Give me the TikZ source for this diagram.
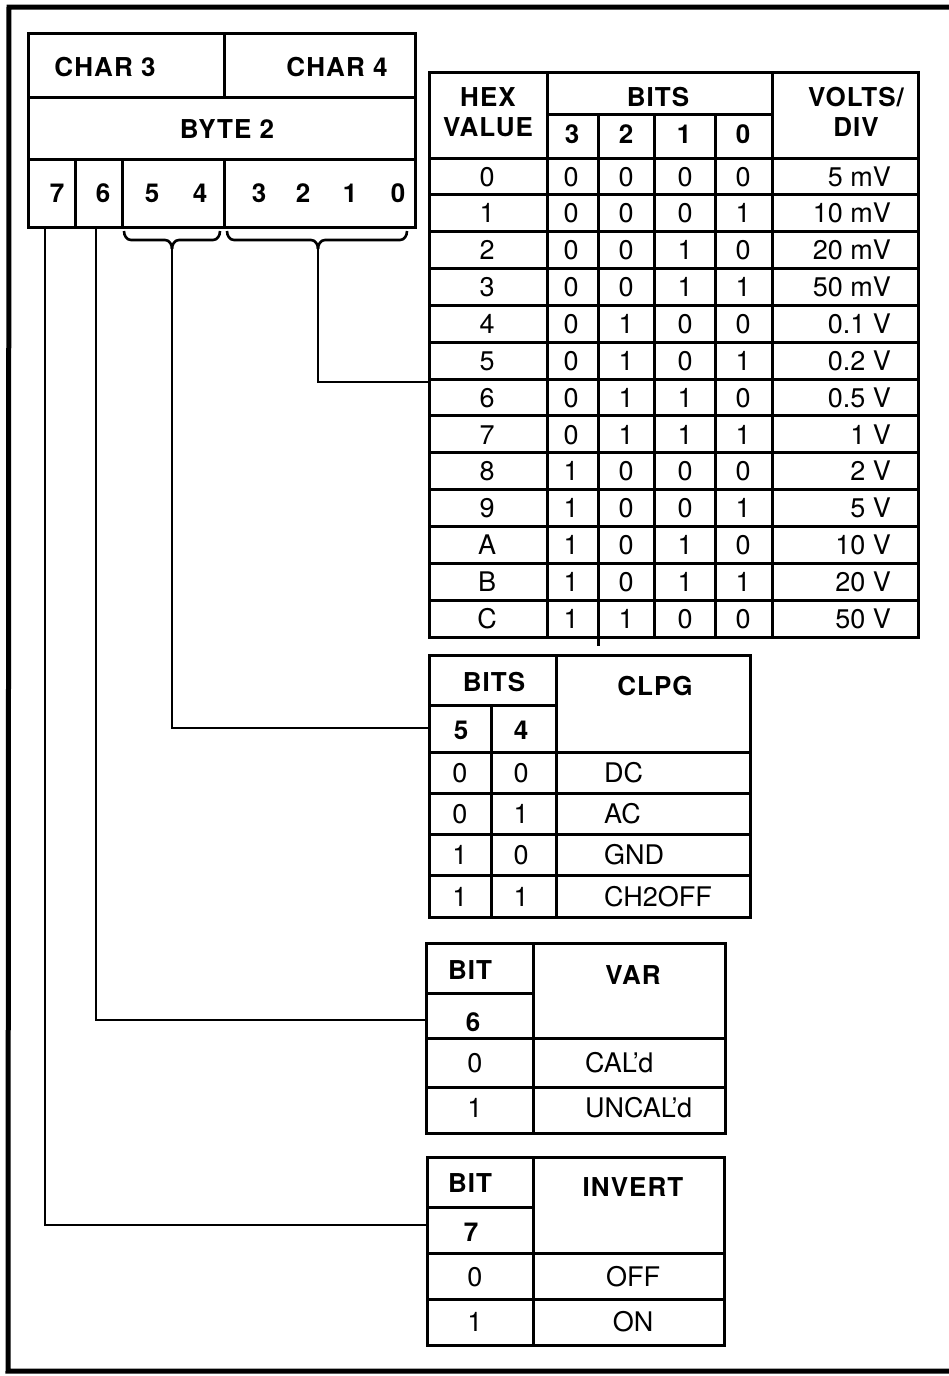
\documentclass[tikz,border=0pt]{standalone}
\usepackage{fontspec}
\setmainfont{TeX Gyre Heros}
\newfontfamily\hbf[LetterSpace=4.0]{TeX Gyre Heros}
\begin{document}
\begin{tikzpicture}[x=1pt,y=-1pt,
  tl/.style={line width=3pt},
  conn/.style={line width=2.6pt},
  frame/.style={line width=5pt},
  lab/.style={inner sep=0pt, font=\fontsize{27}{31}\selectfont, text height=19.4pt, text depth=0pt},
  hd/.style={lab, font=\fontsize{26}{30}\selectfont\hbf\bfseries, text height=18.7pt}]
\useasboundingbox (0,0) rectangle (949,1376);
% outer frame
\draw[frame] (960,7) -- (9,7) -- (8,1371) -- (960,1371);

% ---------- byte box ----------
\draw[tl] (28,33) rectangle (415,227);
\draw[tl] (28,97) -- (415,97);
\draw[tl] (28,159) -- (415,159);
\draw[tl] (224,33) -- (224,97);
\draw[tl] (75,159) -- (75,227);
\draw[tl] (122,159) -- (122,227);
\draw[tl] (224,159) -- (224,227);
\node[hd] (char3) at (105,67) {CHAR 3};
\node[hd] (char4) at (337,67) {CHAR 4};
\node[hd] (byte2) at (227,129) {BYTE 2};
\node[hd] (bb7) at (57,193) {7};
\node[hd] (bb6) at (103,193) {6};
\node[hd] (bb5) at (152,193) {5};
\node[hd] (bb4) at (200,193) {4};
\node[hd] (bb3) at (259,193) {3};
\node[hd] (bb2) at (303,193) {2};
\node[hd] (bb1) at (350,193) {1};
\node[hd] (bb0) at (398,193) {0};

% connector end points
\coordinate (b7) at (45,227);
\coordinate (b6) at (96,227);
\coordinate (t54) at (172,249);
\coordinate (t30) at (318,249);
\coordinate (inv) at (427,1225);
\coordinate (var) at (426,1020);
\coordinate (clpg) at (429,728);
\coordinate (hex) at (429,382);

% braces
\draw[conn] (124,231) to[out=-90,in=180] (131,240) -- (165,240) to[out=0,in=90] (t54);
\draw[conn] (220,231) to[out=-90,in=0] (213,240) -- (179,240) to[out=180,in=90] (t54);
\draw[conn] (227,231) to[out=-90,in=180] (234,240) -- (311,240) to[out=0,in=90] (t30);
\draw[conn] (407,231) to[out=-90,in=0] (400,240) -- (325,240) to[out=180,in=90] (t30);

% connectors
\draw[conn] (b7) |- (inv);
\draw[conn] (b6) |- (var);
\draw[conn] (t54) |- (clpg);
\draw[conn] (t30) |- (hex);

% ---------- HEX table ----------
\def\rh{36.85}
\draw[tl] (429,72) rectangle (918,637);
\draw[tl] (547,72) -- (547,637);
\draw[tl] (772,72) -- (772,637);
\draw[tl] (547,114) -- (772,114);
\draw[tl] (598,114) -- (598,646);
\draw[tl] (654,114) -- (654,637);
\draw[tl] (715,114) -- (715,637);
\draw[tl] (429,158) -- (918,158);
\foreach \i in {1,...,12} \draw[tl] (429,158+\i*\rh) -- (918,158+\i*\rh);
\node[hd] (hexh) at (488,97) {HEX};
\node[hd] (valh) at (488,127) {VALUE};
\node[hd] (bitsh) at (658,97) {BITS};
\node[hd] (h3) at (572,134) {3};
\node[hd] (h2) at (626,134) {2};
\node[hd] (h1) at (684,134) {1};
\node[hd] (h0) at (743,134) {0};
\node[hd] (volth) at (856,97) {VOLTS/};
\node[hd] (divh) at (856,127) {DIV};
\foreach \hx/\ba/\bb/\bc/\bd/\vv [count=\i from 0] in
  {0/0/0/0/0/5 mV, 1/0/0/0/1/10 mV, 2/0/0/1/0/20 mV, 3/0/0/1/1/50 mV,
   4/0/1/0/0/0.1 V, 5/0/1/0/1/0.2 V, 6/0/1/1/0/0.5 V, 7/0/1/1/1/1 V,
   8/1/0/0/0/2 V, 9/1/0/0/1/5 V, A/1/0/1/0/10 V, B/1/0/1/1/20 V, C/1/1/0/0/50 V}{
  \pgfmathsetmacro{\yy}{158+(\i+0.5)*\rh}
  \node[lab] (hx\i) at (487,\yy) {\hx};
  \node[lab] (ba\i) at (571,\yy) {\ba};
  \node[lab] (bb\i) at (626,\yy) {\bb};
  \node[lab] (bc\i) at (685,\yy) {\bc};
  \node[lab] (bd\i) at (743,\yy) {\bd};
  \node[lab,anchor=east] (vv\i) at (891,\yy) {\vv};
}

% ---------- CLPG table ----------
\draw[tl] (429,655) rectangle (750,917);
\draw[tl] (556,655) -- (556,917);
\draw[tl] (429,705) -- (556,705);
\draw[tl] (491,705) -- (491,917);
\draw[tl] (429,752) -- (750,752);
\foreach \i in {1,2,3} \draw[tl] (429,752+\i*41.25) -- (750,752+\i*41.25);
\node[hd] (cbits) at (494,682) {BITS};
\node[hd] (clpgh) at (655,686) {CLPG};
\node[hd] (c5) at (461,730) {5};
\node[hd] (c4) at (521,730) {4};
\foreach \a/\b/\t [count=\i from 0] in {0/0/DC, 0/1/AC, 1/0/GND, 1/1/CH2OFF}{
  \pgfmathsetmacro{\yy}{752+(\i+0.5)*41.25}
  \node[lab] (ca\i) at (460,\yy) {\a};
  \node[lab] (cb\i) at (521,\yy) {\b};
  \node[lab,anchor=west] (ct\i) at (604,\yy) {\t};
}

% ---------- VAR table ----------
\draw[tl] (426,943) rectangle (725,1133);
\draw[tl] (533,943) -- (533,1133);
\draw[tl] (426,993) -- (533,993);
\draw[tl] (426,1038) -- (725,1038);
\draw[tl] (426,1087) -- (725,1087);
\node[hd] (vbit) at (470,970) {BIT};
\node[hd] (varh) at (633,975) {VAR};
\node[hd] (v6) at (473,1022) {6};
\node[lab] (v0) at (475,1063) {0};
\node[lab] (v1) at (475,1108) {1};
\node[lab,anchor=west] (vcal) at (585,1063) {CAL’d};
\node[lab,anchor=west] (vuncal) at (585,1108) {UNCAL’d};

% ---------- INVERT table ----------
\draw[tl] (427,1157) rectangle (724,1345);
\draw[tl] (533,1157) -- (533,1345);
\draw[tl] (427,1207) -- (533,1207);
\draw[tl] (427,1253) -- (724,1253);
\draw[tl] (427,1299) -- (724,1299);
\node[hd] (ibit) at (470,1183) {BIT};
\node[hd] (invh) at (633,1187) {INVERT};
\node[hd] (i7) at (471,1232) {7};
\node[lab] (i0) at (475,1277) {0};
\node[lab] (i1) at (475,1322) {1};
\node[lab] (ioff) at (633,1277) {OFF};
\node[lab] (ion) at (633,1322) {ON};
\end{tikzpicture}
\end{document}
